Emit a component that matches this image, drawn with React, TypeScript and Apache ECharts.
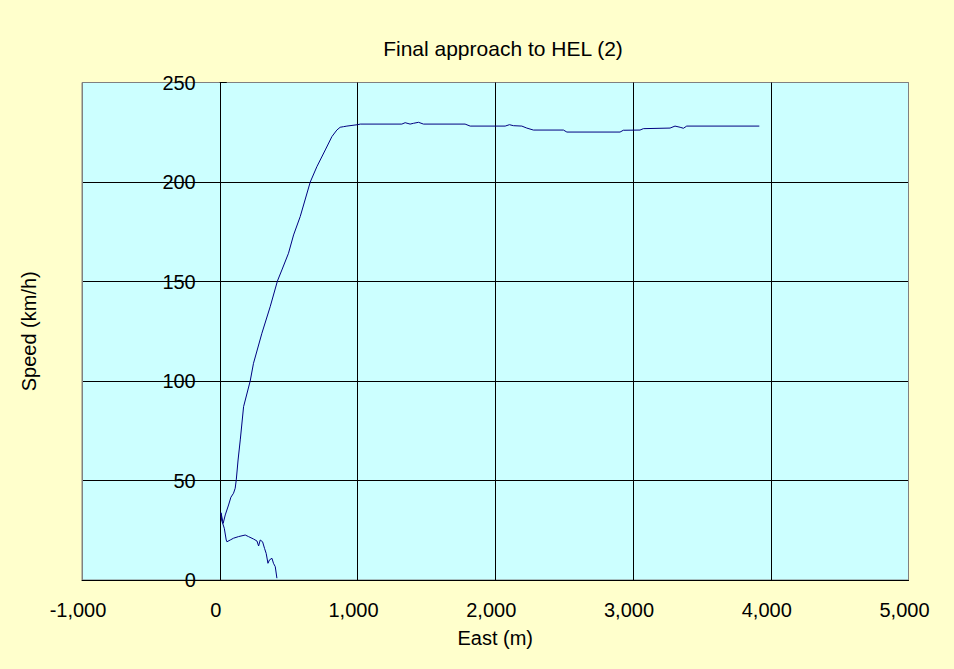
import React, { useEffect, useRef } from "react";
import * as echarts from "echarts";

const TITLE = "Final approach to HEL (2)";
const X_NAME = "East (m)";
const Y_NAME = "Speed (km/h)";

// East position (m) along the track, in time order
const eastM = [
  3917, 3390, 3366, 3342, 3305, 3269, 3075, 3051, 2930, 2906, 2520, 2495, 2277, 2229, 2193, 2132,
  2103, 2072, 1818, 1781, 1479, 1443, 1407, 1382, 1346, 1322, 1020, 1000, 923, 898, 874, 850,
  814, 766, 705, 657, 584, 536, 499, 451, 419, 366, 306, 245, 221, 173, 149, 133,
  120, 112, 100, 81, 64, 40, 25, 9, 13, 33, 47, 52, 76, 100, 136, 185,
  209, 245, 270, 282, 294, 311, 325, 337, 350, 361, 379, 390, 403, 415,
];
// Speed (km/h) at each point
const speedKmh = [
  228.1, 228.1, 227.0, 227.5, 228.1, 227.1, 226.8, 226.1, 226.0, 225.1, 225.1, 226.1, 226.1, 227.1, 228.1, 228.3,
  228.8, 228.1, 228.1, 229.1, 229.1, 230.0, 229.5, 229.1, 229.8, 229.1, 229.1, 228.8, 228.1, 227.8, 227.5, 226.1,
  222.8, 216.1, 207.7, 200.0, 182.6, 173.4, 164.2, 155.8, 150.3, 137.3, 124.0, 108.9, 100.0, 87.1, 70.4, 60.3,
  50.3, 46.1, 43.6, 41.6, 37.7, 32.7, 28.5, 33.8, 30.2, 26.0, 20.1, 19.2, 20.1, 21.0, 21.8, 22.6,
  21.8, 20.6, 19.6, 17.1, 20.1, 19.2, 15.9, 13.4, 8.4, 10.1, 10.9, 8.4, 6.7, 0.9,
];

const X_MIN = -1000;
const X_MAX = 5000;
const X_STEP = 1000;
const Y_MIN = 0;
const Y_MAX = 250;
const Y_STEP = 50;

const FONT = "'Liberation Sans', Arial, sans-serif";

const GRID_LEFT = 82;
const GRID_RIGHT = 45.5;
const CHART_W = 954;

export default function App() {
  const ref = useRef<HTMLDivElement>(null);

  useEffect(() => {
    if (!ref.current) return;
    const chart = echarts.init(ref.current, undefined, { renderer: "svg" });
    const data = eastM.map((x, i) => [x, speedKmh[i]]);
    const plotW = CHART_W - GRID_LEFT - GRID_RIGHT;
    // the value axis crosses the category axis at East = 0
    const yAxisShift = ((0 - X_MIN) / (X_MAX - X_MIN)) * plotW;
    chart.setOption({
      animation: false,
      backgroundColor: "#FFFFCC",
      textStyle: { fontFamily: FONT },
      title: {
        text: TITLE,
        left: 503,
        top: 38,
        padding: 0,
        textAlign: "center",
        textStyle: { fontSize: 21, fontWeight: "normal", color: "#000", fontFamily: FONT },
      },
      grid: {
        left: GRID_LEFT,
        top: 82.5,
        right: GRID_RIGHT,
        bottom: 89,
        show: true,
        containLabel: false,
        outerBoundsMode: "none",
        backgroundColor: "#CCFFFF",
        borderColor: "#808080",
        borderWidth: 1,
      },
      xAxis: {
        type: "value",
        min: X_MIN,
        max: X_MAX,
        interval: X_STEP,
        name: X_NAME,
        nameLocation: "middle",
        nameGap: 48,
        nameTextStyle: { fontSize: 20, color: "#000", fontFamily: FONT },
        axisLine: { show: true, onZero: false, lineStyle: { color: "#000", width: 1 } },
        axisTick: { show: false },
        axisLabel: {
          fontSize: 20,
          color: "#000",
          margin: 20,
          padding: [0, 8, 0, 0],
          fontFamily: FONT,
          formatter: (v: number) => v.toLocaleString("en-US"),
        },
        splitLine: {
          show: true,
          lineStyle: {
            color: ["#808080", "#000", "#000", "#000", "#000", "#000", "#808080"],
            width: 1,
          },
        },
      },
      yAxis: {
        type: "value",
        min: Y_MIN,
        max: Y_MAX,
        interval: Y_STEP,
        offset: -yAxisShift,
        name: Y_NAME,
        nameLocation: "middle",
        nameGap: 181,
        nameTextStyle: { fontSize: 20, color: "#000", fontFamily: FONT },
        axisLine: { show: true, onZero: false, lineStyle: { color: "#000", width: 1 } },
        axisTick: { show: true, inside: true, length: 7, lineStyle: { color: "#000" } },
        axisLabel: { fontSize: 20, color: "#000", margin: 24, fontFamily: FONT },
        splitLine: {
          show: true,
          lineStyle: { color: ["#000", "#000", "#000", "#000", "#000", "#808080"], width: 1 },
        },
      },
      series: [
        {
          type: "line",
          data,
          showSymbol: false,
          symbol: "none",
          lineStyle: { color: "#000080", width: 1 },
          itemStyle: { color: "#000080" },
        },
      ],
    });
    return () => chart.dispose();
  }, []);

  return (
    <div
      ref={ref}
      style={{ position: "absolute", left: 0, top: 0, width: CHART_W, height: 669 }}
    />
  );
}
